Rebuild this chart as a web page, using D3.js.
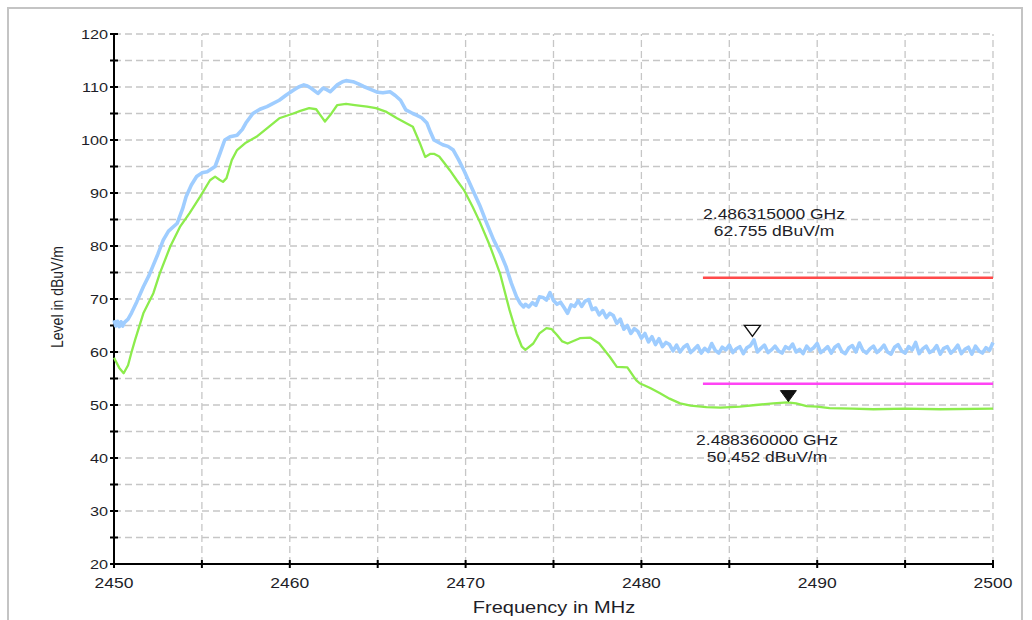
<!DOCTYPE html>
<html><head><meta charset="utf-8">
<script src="https://cdn.jsdelivr.net/npm/d3@7"></script>
<style>
html,body{margin:0;padding:0;background:#fff;}
svg{display:block;}
text{font-family:"Liberation Sans",Arial,sans-serif;fill:#1e1e28;}
</style></head>
<body>
<svg id="chart" width="1032" height="620"></svg>
<script>
// ---- data ----
const xTicks = [2450, 2460, 2470, 2480, 2490, 2500];
const yTicks = [20, 30, 40, 50, 60, 70, 80, 90, 100, 110, 120];
const xLabel = "Frequency in MHz";
const yLabel = "Level in dBuV/m";

// Peak trace (blue): [MHz, dBuV/m]
const peakMain = [
[2450.0,66.0],[2450.1,64.9],[2450.2,65.8],[2450.3,64.8],[2450.4,65.7],[2450.5,64.9],[2450.6,65.6],[2450.8,66.2],
[2451.0,67.4],[2451.3,69.5],[2451.67,72.3],[2452.0,74.5],[2452.2,76.1],[2452.5,78.5],[2452.8,81.1],[2453.1,82.8],
[2453.6,84.3],[2453.9,87.0],[2454.1,89.3],[2454.4,91.5],[2454.7,93.1],[2455.0,93.8],[2455.3,94.0],[2455.75,95.0],
[2456.03,97.5],[2456.3,100.0],[2456.6,100.6],[2457.0,100.9],[2457.3,102.0],[2457.5,103.2],[2457.9,105.0],[2458.3,105.8],
[2458.7,106.3],[2459.0,106.8],[2459.4,107.5],[2459.8,108.5],[2460.2,109.4],[2460.5,110.0],[2460.8,110.4],[2461.0,110.2],
[2461.2,109.8],[2461.6,108.8],[2461.9,109.8],[2462.1,109.5],[2462.3,109.1],[2462.7,110.4],[2463.0,111.0],[2463.2,111.2],
[2463.6,111.0],[2463.9,110.6],[2464.2,110.1],[2464.7,109.4],[2465.0,109.0],[2465.3,108.9],[2465.7,109.1],[2466.0,108.4],
[2466.3,107.5],[2466.6,105.7],[2467.0,105.0],[2467.2,104.7],[2467.5,104.2],[2467.8,103.2],[2468.0,101.5],[2468.2,100.0],
[2468.7,99.1],[2469.0,98.8],[2469.3,98.1],[2469.6,96.3],[2469.9,94.3],[2470.4,90.6],[2470.8,87.7],[2471.2,84.3],
[2471.6,81.1],[2472.0,78.5],[2472.3,76.1],[2472.6,73.0],[2472.9,70.4],[2473.1,69.2],[2473.3,68.5]
];
// Peak trace, noisy tail sampled every 0.2 MHz from 2473.4 MHz
const peakTailStart = 2473.4;
const peakTailStep = 0.2;
const peakTail = [
69.0,68.5,69.3,68.8,70.4,70.3,69.8,71.2,69.7,69.0,69.4,68.4,67.3,68.9,68.6,69.7,68.6,69.6,69.9,68.0,
68.3,67.0,67.8,66.5,67.3,66.9,65.4,66.2,64.3,65.0,63.5,64.4,63.9,62.6,63.5,61.9,62.9,61.4,62.5,61.0,
61.8,61.4,60.2,61.3,60.0,60.9,61.4,59.9,60.5,61.2,59.8,60.7,60.1,61.6,60.3,59.8,60.9,60.4,61.3,59.9,
60.6,61.0,59.7,60.8,61.2,62.3,60.0,60.7,61.3,59.9,60.4,61.1,60.2,59.8,61.0,60.6,61.5,60.0,60.5,59.7,
61.1,60.3,60.8,61.6,59.9,60.4,61.0,59.8,60.9,61.4,60.1,59.7,60.8,61.2,60.0,61.7,60.3,59.8,60.6,61.1,
59.9,60.5,61.3,60.0,59.6,60.9,61.4,60.2,59.8,61.0,60.4,61.8,59.7,60.6,61.1,59.9,60.3,61.2,59.6,60.7,
61.0,59.8,60.4,61.3,59.7,60.5,60.9,59.6,61.1,60.2,59.8,60.8,60.3,61.8
];

// Average trace (green): [MHz, dBuV/m]
const avgTrace = [
[2450.0,58.9],[2450.3,57.0],[2450.55,56.0],[2450.8,57.5],[2451.0,60.0],[2451.2,62.3],[2451.67,67.3],[2452.24,71.1],
[2452.6,74.8],[2453.2,79.9],[2453.75,83.6],[2454.3,86.2],[2454.9,89.3],[2455.46,92.4],[2455.75,93.1],[2456.0,92.5],
[2456.2,92.1],[2456.4,92.8],[2456.7,96.2],[2457.0,98.1],[2457.5,99.5],[2458.1,100.6],[2458.7,102.2],[2459.4,104.1],
[2460.2,105.0],[2460.6,105.5],[2461.1,106.0],[2461.5,105.8],[2461.8,104.4],[2462.0,103.5],[2462.3,104.7],[2462.7,106.6],
[2463.2,106.8],[2463.7,106.6],[2464.4,106.3],[2464.9,106.0],[2465.5,105.3],[2466.1,104.1],[2466.6,103.2],[2467.0,102.5],
[2467.4,99.4],[2467.7,96.8],[2468.0,97.4],[2468.2,97.4],[2468.5,96.9],[2468.8,95.6],[2469.1,94.3],[2469.5,92.4],
[2469.9,90.6],[2470.4,87.4],[2470.8,84.6],[2471.4,79.9],[2471.96,74.8],[2472.5,67.9],[2472.9,63.5],[2473.2,61.0],
[2473.4,60.4],[2473.85,61.6],[2474.2,63.5],[2474.6,64.5],[2474.9,64.3],[2475.2,63.2],[2475.5,62.0],[2475.8,61.6],
[2476.5,62.6],[2477.1,62.7],[2477.6,61.6],[2478.2,59.1],[2478.6,57.2],[2479.2,57.1],[2479.7,54.7],[2479.9,54.1],
[2480.5,53.2],[2481.06,52.2],[2481.6,51.2],[2482.2,50.3],[2482.8,49.9],[2483.7,49.6],[2484.5,49.5],[2485.6,49.7],
[2486.5,50.0],[2487.5,50.3],[2488.3,50.5],[2488.8,50.3],[2489.4,49.8],[2490.0,49.7],[2490.7,49.4],[2492.0,49.3],
[2493.2,49.2],[2495.0,49.3],[2497.0,49.2],[2500.0,49.3]
];

// Limit lines: [startMHz, endMHz, level]
const limitPeak = [2483.5, 2500, 74];
const limitAvg = [2483.5, 2500, 54];

// Markers
const markerPeak = {f: 2486.315, v: 62.755, l1: "2.486315000 GHz", l2: "62.755 dBuV/m"};
const markerAvg = {f: 2488.360, v: 50.452, l1: "2.488360000 GHz", l2: "50.452 dBuV/m"};

// ---- drawing ----
const SX = 1.25; // horizontal text stretch
const svg = d3.select("#chart");
const x = d3.scaleLinear().domain([2450, 2500]).range([114, 993]);
const y = d3.scaleLinear().domain([20, 120]).range([564, 34]);

// outer frame
svg.append("rect").attr("x", 8).attr("y", 8).attr("width", 1014).attr("height", 640)
  .attr("fill", "none").attr("stroke", "#c4c4c4").attr("stroke-width", 2);

// grid
const gx = d3.range(2455, 2500.1, 5);
const gy = d3.range(25, 120.1, 5);
svg.append("g").selectAll("line").data(gx).join("line")
  .attr("x1", d => x(d)).attr("x2", d => x(d)).attr("y1", y(20)).attr("y2", y(120))
  .attr("stroke", "#c6c6c6").attr("stroke-width", 1.3).attr("stroke-dasharray", "7,4");
svg.append("g").selectAll("line").data(gy).join("line")
  .attr("y1", d => y(d)).attr("y2", d => y(d)).attr("x1", x(2450)).attr("x2", x(2500))
  .attr("stroke", "#c6c6c6").attr("stroke-width", 1.3).attr("stroke-dasharray", "7,4");

// axes lines + ticks
const ax = svg.append("g");
ax.append("line").attr("x1", x(2450)).attr("x2", x(2450)).attr("y1", y(20)).attr("y2", y(120))
  .attr("stroke", "#000").attr("stroke-width", 2);
ax.append("line").attr("x1", x(2450)).attr("x2", x(2500)).attr("y1", y(20)).attr("y2", y(20))
  .attr("stroke", "#000").attr("stroke-width", 2);
ax.selectAll(".yt").data(d3.range(20, 120.1, 5)).join("line")
  .attr("x1", x(2450) - 4).attr("x2", x(2450) + 4).attr("y1", d => y(d)).attr("y2", d => y(d))
  .attr("stroke", "#000").attr("stroke-width", 2);
ax.selectAll(".xt").data(d3.range(2450, 2500.1, 5)).join("line")
  .attr("y1", y(20) - 4).attr("y2", y(20) + 4).attr("x1", d => x(d)).attr("x2", d => x(d))
  .attr("stroke", "#000").attr("stroke-width", 2);

// tick labels
svg.append("g").selectAll("g").data(yTicks).join("g")
  .attr("transform", d => `translate(${x(2450) - 6},${y(d)}) scale(${SX},1)`)
  .append("text").attr("text-anchor", "end").attr("dy", "0.36em")
  .attr("font-size", 13).text(d => d);
svg.append("g").selectAll("g").data(xTicks).join("g")
  .attr("transform", d => `translate(${x(d)},${y(20) + 24}) scale(${SX},1)`)
  .append("text").attr("text-anchor", "middle").attr("font-size", 14).text(d => d);

// axis titles
svg.append("g").attr("transform", `translate(554,613) scale(${SX},1)`)
  .append("text").attr("text-anchor", "middle").attr("font-size", 16).text(xLabel);
svg.append("g").attr("transform", `translate(63,297) scale(1.2,1) rotate(-90)`)
  .append("text").attr("text-anchor", "middle").attr("font-size", 14).text(yLabel);

// traces
const line = d3.line().x(d => x(d[0])).y(d => y(d[1]));
const peakAll = peakMain.concat(peakTail.map((v, i) => [peakTailStart + i * peakTailStep, v]));
svg.append("path").datum(peakAll).attr("d", line).attr("fill", "none")
  .attr("stroke", "#9fcdff").attr("stroke-width", 3.6).attr("stroke-linejoin", "round");
svg.append("path").datum(avgTrace).attr("d", line).attr("fill", "none")
  .attr("stroke", "#8cec4c").attr("stroke-width", 2.3).attr("stroke-linejoin", "round");

// limit lines
svg.append("line").attr("x1", x(limitPeak[0])).attr("x2", x(limitPeak[1]))
  .attr("y1", y(limitPeak[2])).attr("y2", y(limitPeak[2]))
  .attr("stroke", "#ff4a4a").attr("stroke-width", 2.6);
svg.append("line").attr("x1", x(limitAvg[0])).attr("x2", x(limitAvg[1]))
  .attr("y1", y(limitAvg[2])).attr("y2", y(limitAvg[2]))
  .attr("stroke", "#ff44f4").attr("stroke-width", 2.6);

// markers (inverted triangle, tip at the point)
function tri(m) {
  const px = x(m.f), py = y(m.v) - 1;
  return `M${px},${py} L${px - 8},${py - 11} L${px + 8},${py - 11} Z`;
}
svg.append("path").attr("d", tri(markerPeak)).attr("fill", "#fff").attr("stroke", "#111").attr("stroke-width", 1.4);
svg.append("path").attr("d", tri(markerAvg)).attr("fill", "#111").attr("stroke", "#111").attr("stroke-width", 1);

// marker annotations
function note(m, cx, y1, y2) {
  svg.append("g").attr("transform", `translate(${cx},${y1}) scale(${SX},1)`)
    .append("text").attr("text-anchor", "middle").attr("font-size", 14).text(m.l1);
  svg.append("g").attr("transform", `translate(${cx},${y2}) scale(${SX},1)`)
    .append("text").attr("text-anchor", "middle").attr("font-size", 14).text(m.l2);
}
note(markerPeak, 774, 219, 236);
note(markerAvg, 767, 445, 462);
</script>
</body></html>
